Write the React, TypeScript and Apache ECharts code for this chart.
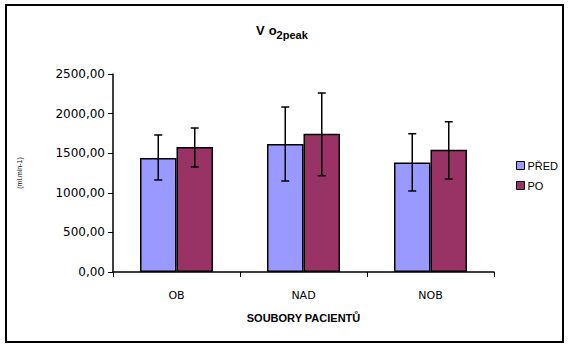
import React, { useEffect, useRef } from "react";
import * as echarts from "echarts";

const categories = ["OB", "NAD", "NOB"];
const seriesNames = ["PŘED", "PO"];
const predValues = [1439, 1616, 1384];
const poValues = [1578, 1746, 1544];
const predErrLow = [1162, 1149, 1023];
const predErrHigh = [1730, 2083, 1746];
const poErrLow = [1326, 1216, 1174];
const poErrHigh = [1818, 2260, 1897];
const yTicks = [0, 500, 1000, 1500, 2000, 2500];

const CAT_GAP = 0.425;

function errorSeries(low: number[], high: number[], side: number) {
  return {
    type: "custom",
    silent: true,
    z: 10,
    data: categories.map((c, i) => [i, low[i], high[i]]),
    renderItem: (params: any, api: any) => {
      const idx = api.value(0);
      const catW = api.size([1, 0])[0];
      const barW = (catW * (1 - CAT_GAP)) / 2;
      const pLow = api.coord([idx, api.value(1)]);
      const pHigh = api.coord([idx, api.value(2)]);
      const x = pLow[0] + side * barW / 2;
      const cap = 4;
      const style = { stroke: "#000", lineWidth: 1.5 };
      return {
        type: "group",
        children: [
          { type: "line", shape: { x1: x, y1: pLow[1], x2: x, y2: pHigh[1] }, style },
          { type: "line", shape: { x1: x - cap, y1: pLow[1], x2: x + cap, y2: pLow[1] }, style },
          { type: "line", shape: { x1: x - cap, y1: pHigh[1], x2: x + cap, y2: pHigh[1] }, style },
        ],
      };
    },
  };
}

export default function App() {
  const ref = useRef<HTMLDivElement>(null);
  useEffect(() => {
    if (!ref.current) return;
    const chart = echarts.init(ref.current, undefined, { renderer: "svg" });
    chart.setOption({
      animation: false,
      backgroundColor: "#fff",
      textStyle: { fontFamily: "Liberation Sans, Arial, sans-serif" },
      graphic: [
        {
          type: "rect",
          shape: { x: 6, y: 5, width: 557, height: 337 },
          style: { fill: "none", stroke: "#000", lineWidth: 2 },
          z: 100,
        },
      ],
      title: {
        text: "{v|V}{o|o}{s|2peak}",
        left: 251,
        top: 16,
        textStyle: {
          rich: {
            v: { fontSize: 13, fontWeight: "bold", color: "#000", padding: [0, 4, 0, 0], fontFamily: "Liberation Sans, Arial" },
            o: { fontSize: 13, fontWeight: "bold", color: "#000", fontFamily: "Liberation Sans, Arial" },
            s: { fontSize: 11, fontWeight: "bold", color: "#000", padding: [8, 0, 0, 0], fontFamily: "Liberation Sans, Arial" },
          },
        },
      },
      legend: {
        orient: "vertical",
        left: 511,
        top: 155,
        itemWidth: 8,
        itemHeight: 8,
        itemGap: 9,
        icon: "rect",
        data: seriesNames,
        textStyle: { fontSize: 11, color: "#000", fontFamily: "Liberation Sans, Arial", padding: [0, 0, 0, -2] },
        itemStyle: { borderColor: "#000", borderWidth: 1 },
      },
      grid: { left: 113, right: 76, top: 74, bottom: 77 },
      xAxis: {
        type: "category",
        data: categories,
        axisLine: { lineStyle: { color: "#000", width: 1.5 } },
        axisTick: { show: true, length: 5, lineStyle: { color: "#000" } },
        axisLabel: { margin: 18, fontSize: 11, color: "#000", fontFamily: "DejaVu Sans" },
        name: "SOUBORY PACIENTŮ",
        nameLocation: "middle",
        nameGap: 40,
        nameTextStyle: { fontSize: 11, fontWeight: "bold", color: "#000", fontFamily: "Liberation Sans, Arial" },
      },
      yAxis: {
        type: "value",
        min: yTicks[0],
        max: yTicks[yTicks.length - 1],
        interval: 500,
        splitLine: { show: false },
        axisLine: { show: true, lineStyle: { color: "#000", width: 1.5 } },
        axisTick: { show: true, length: 5, lineStyle: { color: "#000" } },
        axisLabel: {
          margin: 8,
          fontSize: 12,
          color: "#000",
          fontFamily: "DejaVu Sans",
          formatter: (v: number) => v.toFixed(2).replace(".", ","),
        },
        name: "(ml.min-1)",
        nameLocation: "middle",
        nameGap: 90,
        nameRotate: 90,
        nameTextStyle: { fontSize: 7, color: "#000" },
      },
      series: [
        {
          name: seriesNames[0],
          type: "bar",
          data: predValues,
          barGap: "0%",
          barCategoryGap: "42.5%",
          itemStyle: { color: "#9999FF", borderColor: "#000", borderWidth: 1.5 },
        },
        {
          name: seriesNames[1],
          type: "bar",
          data: poValues,
          barGap: "0%",
          barCategoryGap: "42.5%",
          itemStyle: { color: "#993366", borderColor: "#000", borderWidth: 1.5 },
        },
        errorSeries(predErrLow, predErrHigh, -1),
        errorSeries(poErrLow, poErrHigh, 1),
      ],
    });
    return () => chart.dispose();
  }, []);
  return (
    <div
      ref={ref}
      style={{ position: "fixed", left: 0, top: 0, width: 570, height: 349 }}
    />
  );
}
